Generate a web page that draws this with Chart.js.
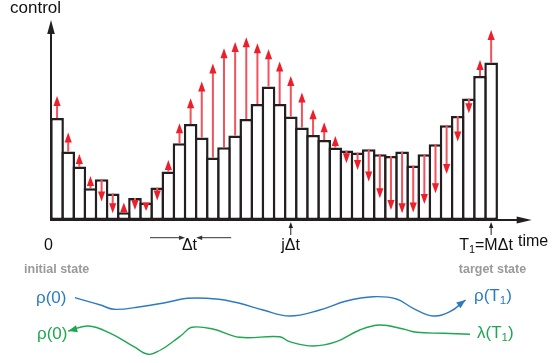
<!DOCTYPE html>
<html>
<head>
<meta charset="utf-8">
<title>control</title>
<script src="https://cdn.jsdelivr.net/npm/chart.js@4.4.1/dist/chart.umd.min.js"></script>
<style>
  body { margin: 0; background: #fff; }
  #wrap { position: relative; width: 553px; height: 363px; font-family: "Liberation Sans", Arial, sans-serif; overflow: hidden; }
  #bars { position: absolute; left: 0; top: 0; }
  #states { position: absolute; left: 0; top: 280px; }
  .lbl { position: absolute; white-space: nowrap; line-height: 1; color: #111; }
  .c { width: 100px; text-align: center; }
  .st { font-size: 12.5px; font-weight: bold; color: #9a9a9a; }
  .ax { font-size: 16px; }
  .blue { color: #2c7bc1; font-size: 17px; }
  .green { color: #1ea650; font-size: 17px; }
  sub { font-size: 0.68em; vertical-align: -0.28em; line-height: 0; }
</style>
</head>
<body>
<div id="wrap">
  <canvas id="bars" width="553" height="280"></canvas>
  <canvas id="states" width="553" height="83"></canvas>

  <div class="lbl" style="left:10px; top:-1px; font-size:17px;">control</div>
  <div class="lbl ax" style="left:518px; top:232.5px;">time</div>
  <div class="lbl ax c" style="left:-1.5px; top:236.5px;">0</div>
  <div class="lbl ax c" style="left:139.5px; top:236.5px;">Δt</div>
  <div class="lbl ax c" style="left:240.5px; top:236.5px;">jΔt</div>
  <div class="lbl ax c" style="left:436px; top:236.5px;">T<sub>1</sub>=MΔt</div>
  <div class="lbl st c" style="left:6.7px; top:263.4px;">initial state</div>
  <div class="lbl st c" style="left:442.5px; top:263px;">target state</div>

  <div class="lbl blue" style="left:36px; top:288.6px;">ρ(0)</div>
  <div class="lbl blue" style="left:474px; top:286.8px;">ρ(T<sub>1</sub>)</div>
  <div class="lbl green" style="left:37px; top:325px;">ρ(0)</div>
  <div class="lbl green" style="left:477px; top:323.6px;">λ(T<sub>1</sub>)</div>
</div>

<script>
// pasos de tiempo (M = 40)
var timeSteps = Array.from({ length: 40 }, function(_, i) { return i + 1; });

// control actual por paso
var controlNow = [5.1, 3.42, 2.67, 1.59, 2.04, 1.33, 0.39, 1.10, 0.88, 1.62,
                  2.42, 3.84, 4.80, 4.12, 3.12, 3.64, 4.22, 5.05, 5.80, 6.68,
                  5.80, 5.17, 4.62, 4.25, 4.00, 3.62, 3.47, 3.37, 3.54, 3.29,
                  3.20, 3.42, 2.72, 3.29, 3.79, 4.74, 5.20, 6.07, 7.20, 7.87];

// control actualizado (punta de las flechas rojas)
var controlNext = [6.2, 4.37, 3.3, 2.2, 0.92, 0.34, 0.87, 0.5, 0.45, 0.97,
                   3.0, 4.84, 6.09, 6.92, 7.83, 8.59, 8.9, 9.14, 8.84, 8.54,
                   7.92, 7.2, 6.37, 5.54, 4.89, 4.2, 2.84, 2.5, 1.92, 1.09,
                   0.5, 0.34, 0.37, 0.8, 1.34, 2.3, 3.92, 5.34, 8.0, 9.5];

// marcas del eje de tiempo (indice de paso)
var markSteps = [21, 39];
var deltaStep = 12;

// propagacion hacia adelante rho(t)
var forwardT = [2.1, 4.4, 5.6, 8.0, 10.4, 12.2, 14.8, 16.9, 19.0, 21.4, 24.1, 26.5, 28.9, 31.0, 32.5, 34.3, 35.8, 37.2];
var forwardRho = [6.53, 5.8, 5.37, 5.63, 6.07, 6.47, 6.4, 5.97, 5.3, 4.7, 5.3, 6.2, 6.63, 6.4, 5.47, 4.7, 5.13, 6.3];

// propagacion hacia atras lambda(t)
var backwardT = [1.5, 3.3, 5.3, 7.4, 8.7, 9.8, 10.9, 11.7, 12.6, 14.5, 16.9, 20.5, 21.4, 23.5, 25.6, 27.7, 29.5, 31.6, 32.8, 35.2, 37.6];
var backwardLambda = [3.2, 3.7, 2.97, 1.63, 0.87, 1.3, 2.13, 2.8, 3.57, 3.4, 2.57, 2.63, 2.13, 1.7, 2.13, 3.3, 3.8, 3.4, 3.07, 2.97, 2.87];

var INK = '#231f20';

function arrowHead(ctx, tx, ty, angle, len, half) {
    ctx.save();
    ctx.translate(tx, ty);
    ctx.rotate(angle);
    ctx.beginPath();
    ctx.moveTo(0, 0);
    ctx.lineTo(-len, -half);
    ctx.lineTo(-len, half);
    ctx.closePath();
    ctx.fill();
    ctx.restore();
}

function arrowLine(ctx, x0, y0, x1, y1, len, half) {
    var a = Math.atan2(y1 - y0, x1 - x0);
    ctx.beginPath();
    ctx.moveTo(x0, y0);
    ctx.lineTo(x1 - Math.cos(a) * len * 0.8, y1 - Math.sin(a) * len * 0.8);
    ctx.stroke();
    arrowHead(ctx, x1, y1, a, len, half);
}

var controlPlugin = {
    id: 'controlPlugin',
    afterDatasetsDraw: function(chart) {
        var ctx = chart.ctx, area = chart.chartArea;
        var x = chart.scales.x, y = chart.scales.y;
        var base = y.getPixelForValue(0);
        var step = x.getPixelForValue(1) - x.getPixelForValue(0);

        // flechas rojas de actualizacion
        ctx.save();
        controlNow.forEach(function(v, i) {
            var px = x.getPixelForValue(i);
            var y0 = y.getPixelForValue(v);
            var y1 = y.getPixelForValue(controlNext[i]);
            var dir = y1 < y0 ? -1 : 1;
            var head = Math.min(10, Math.abs(y1 - y0));
            ctx.strokeStyle = '#f1525c';
            ctx.lineWidth = 2;
            if (Math.abs(y1 - y0) > head) {
                ctx.beginPath();
                ctx.moveTo(px, y0);
                ctx.lineTo(px, y1 - dir * head * 0.8);
                ctx.stroke();
            }
            ctx.fillStyle = '#ec1f2b';
            arrowHead(ctx, px, y1, dir < 0 ? -Math.PI / 2 : Math.PI / 2, head, 3.6);
        });
        ctx.restore();

        // ejes
        ctx.save();
        ctx.strokeStyle = INK;
        ctx.fillStyle = INK;
        ctx.lineWidth = 2;
        var x0 = area.left - 0.5;
        arrowLine(ctx, x0, base + 1, x0, y.getPixelForValue(y.max), 14, 3.8);
        arrowLine(ctx, x0, base, area.right + 35, base, 15, 3.4);

        // marcas j*dt y T1
        ctx.lineWidth = 1;
        markSteps.forEach(function(s) {
            var px = x.getPixelForValue(s);
            arrowLine(ctx, px, base + 15, px, base + 2, 6, 2.2);
        });

        // ancho dt
        var l = x.getPixelForValue(deltaStep) - step / 2;
        var r = x.getPixelForValue(deltaStep) + step / 2;
        ctx.strokeStyle = '#333';
        ctx.fillStyle = '#333';
        arrowLine(ctx, l - 35, base + 17.7, l, base + 17.7, 6, 2.2);
        arrowLine(ctx, r + 35, base + 17.7, r, base + 17.7, 6, 2.2);
        ctx.restore();
    }
};

new Chart(document.getElementById('bars'), {
    type: 'bar',
    data: {
        labels: timeSteps,
        datasets: [{
            label: 'control',
            data: controlNow,
            backgroundColor: '#ffffff',
            borderColor: INK,
            borderWidth: 2.5,
            borderSkipped: false,
            categoryPercentage: 1,
            barPercentage: 1.225,
            clip: false
        }]
    },
    options: {
        responsive: false,
        animation: false,
        devicePixelRatio: 1,
        layout: { padding: { left: 51.5, right: 56.3, top: 20, bottom: 60 } },
        plugins: { legend: { display: false }, tooltip: { enabled: false } },
        scales: {
            x: { display: false },
            y: { display: false, min: 0, max: 10 }
        }
    },
    plugins: [controlPlugin]
});

var statesPlugin = {
    id: 'statesPlugin',
    afterDatasetsDraw: function(chart) {
        var ctx = chart.ctx;
        var fwd = chart.getDatasetMeta(0).data;
        var bwd = chart.getDatasetMeta(1).data;
        ctx.save();
        // flecha al final de rho(t)
        var a = fwd[fwd.length - 1], b = fwd[fwd.length - 2];
        ctx.fillStyle = '#2c7bc1';
        arrowHead(ctx, a.x, a.y, Math.atan2(a.y - b.y, a.x - b.x), 9, 3.6);
        // flecha al inicio de lambda(t)
        var c = bwd[0], d = bwd[1];
        ctx.fillStyle = '#1ea650';
        arrowHead(ctx, c.x, c.y, Math.atan2(c.y - d.y, c.x - d.x), 9, 3.6);
        ctx.restore();
    }
};

new Chart(document.getElementById('states'), {
    type: 'line',
    data: {
        datasets: [{
            label: 'rho',
            data: forwardT.map(function(t, i) { return { x: t, y: forwardRho[i] }; }),
            borderColor: '#2c7bc1',
            borderWidth: 1.4,
            pointRadius: 0,
            tension: 0.4,
            clip: false
        }, {
            label: 'lambda',
            data: backwardT.map(function(t, i) { return { x: t, y: backwardLambda[i] }; }),
            borderColor: '#1ea650',
            borderWidth: 1.4,
            pointRadius: 0,
            tension: 0.4,
            clip: false
        }]
    },
    options: {
        responsive: false,
        animation: false,
        devicePixelRatio: 1,
        layout: { padding: { left: 51.5, right: 56.3, top: 0, bottom: 0 } },
        plugins: { legend: { display: false }, tooltip: { enabled: false } },
        scales: {
            x: { type: 'linear', display: false, min: 0, max: 40 },
            y: { display: false, min: 0, max: 8.3 }
        }
    },
    plugins: [statesPlugin]
});
</script>
</body>
</html>
